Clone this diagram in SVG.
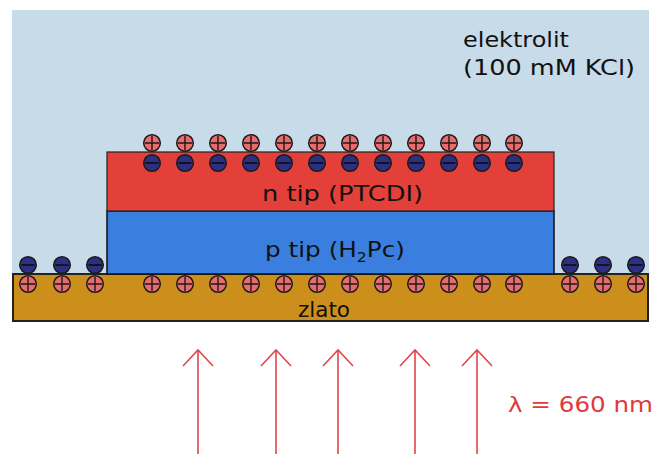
<svg xmlns="http://www.w3.org/2000/svg" width="657" height="454" viewBox="0 0 657 454">
<style>
.t{font-family:"DejaVu Sans","Verdana",sans-serif;fill:#111}
.chg{stroke:#1a1a1a;stroke-width:1.5}
.ray{stroke:#e0474c;stroke-width:1.6;fill:none}
</style>
<defs>
<g id="pos"><circle r="8.3" fill="#ea6b6b" class="chg"/><path d="M-7 0H7M0 -7V7" stroke="#1a1a1a" stroke-width="1.4"/></g>
<g id="neg"><circle r="8.3" fill="#2d2f82" class="chg"/><path d="M-6.5 0H6.5" stroke="#111" stroke-width="1.8"/></g>
<path id="arrow" d="M0 0V104M-15 16L0 0L15 16" class="ray"/>
</defs>
<rect id="elektrolit-bg" x="12" y="10" width="637" height="265" fill="#c8dbe9"/>
<g id="elektrolit">
<text class="t" x="463" y="47" font-size="22" textLength="106" lengthAdjust="spacingAndGlyphs">elektrolit</text>
<text class="t" x="463" y="75" font-size="22" textLength="172" lengthAdjust="spacingAndGlyphs">(100 mM KCl)</text>
</g>
<g id="zlato">
<rect x="13" y="274" width="635" height="47" fill="#cc8f1c" stroke="#222" stroke-width="2"/>
<text class="t" x="298" y="317" font-size="22" textLength="52" lengthAdjust="spacingAndGlyphs">zlato</text>
</g>
<g id="p-tip">
<rect x="107" y="211" width="447" height="63" fill="#3a7fdf" stroke="#111" stroke-width="1.5"/>
<text class="t" x="265" y="257" font-size="22" textLength="140" lengthAdjust="spacingAndGlyphs">p tip (H<tspan font-size="14" dy="5">2</tspan><tspan dy="-5">Pc)</tspan></text>
</g>
<g id="n-tip">
<rect x="107" y="152" width="447" height="59" fill="#e3403a" stroke="#222" stroke-width="1.2"/>
<text class="t" x="262" y="201" font-size="22" textLength="161" lengthAdjust="spacingAndGlyphs">n tip (PTCDI)</text>
</g>
<g id="charges">
<g id="top-pos">
<use href="#pos" x="152" y="143"/><use href="#pos" x="185" y="143"/><use href="#pos" x="218" y="143"/><use href="#pos" x="251" y="143"/><use href="#pos" x="284" y="143"/><use href="#pos" x="317" y="143"/><use href="#pos" x="350" y="143"/><use href="#pos" x="383" y="143"/><use href="#pos" x="416" y="143"/><use href="#pos" x="449" y="143"/><use href="#pos" x="482" y="143"/><use href="#pos" x="514" y="143"/>
</g>
<g id="top-neg">
<use href="#neg" x="152" y="163"/><use href="#neg" x="185" y="163"/><use href="#neg" x="218" y="163"/><use href="#neg" x="251" y="163"/><use href="#neg" x="284" y="163"/><use href="#neg" x="317" y="163"/><use href="#neg" x="350" y="163"/><use href="#neg" x="383" y="163"/><use href="#neg" x="416" y="163"/><use href="#neg" x="449" y="163"/><use href="#neg" x="482" y="163"/><use href="#neg" x="514" y="163"/>
</g>
<g id="gold-pos">
<use href="#pos" x="28" y="284"/><use href="#pos" x="62" y="284"/><use href="#pos" x="95" y="284"/>
<use href="#pos" x="152" y="284"/><use href="#pos" x="185" y="284"/><use href="#pos" x="218" y="284"/><use href="#pos" x="251" y="284"/><use href="#pos" x="284" y="284"/><use href="#pos" x="317" y="284"/><use href="#pos" x="350" y="284"/><use href="#pos" x="383" y="284"/><use href="#pos" x="416" y="284"/><use href="#pos" x="449" y="284"/><use href="#pos" x="482" y="284"/><use href="#pos" x="514" y="284"/>
<use href="#pos" x="570" y="284"/><use href="#pos" x="603" y="284"/><use href="#pos" x="636" y="284"/>
</g>
<g id="side-neg">
<use href="#neg" x="28" y="265"/><use href="#neg" x="62" y="265"/><use href="#neg" x="95" y="265"/>
<use href="#neg" x="570" y="265"/><use href="#neg" x="603" y="265"/><use href="#neg" x="636" y="265"/>
</g>
</g>
<g id="connectors">
<use href="#arrow" x="198" y="350"/><use href="#arrow" x="276" y="350"/><use href="#arrow" x="338" y="350"/><use href="#arrow" x="415" y="350"/><use href="#arrow" x="477" y="350"/>
</g>
<g id="svetlo">
<text class="t" x="508" y="412" font-size="22" style="fill:#e0393e" textLength="145" lengthAdjust="spacingAndGlyphs">λ = 660 nm</text>
</g>
</svg>
